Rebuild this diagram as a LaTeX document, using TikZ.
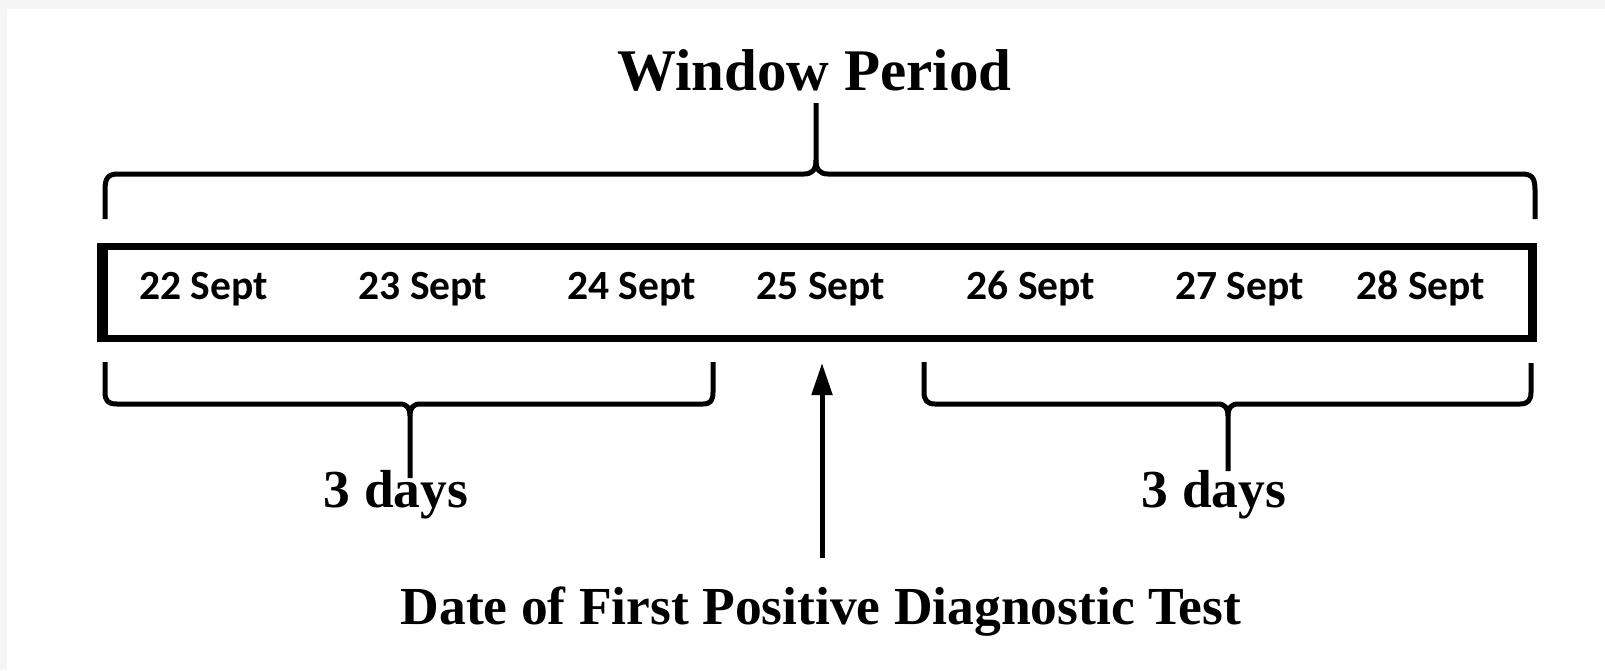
\documentclass[tikz,border=0pt]{standalone}
\usepackage{fontspec}
\setmainfont{Liberation Serif}
\newfontfamily\datefont{Carlito}
\usetikzlibrary{arrows.meta}
\definecolor{pagegray}{RGB}{245,245,245}
\tikzset{
  brace/.style={line width=5pt, line cap=butt, line join=round},
  datelbl/.style={anchor=base, inner sep=0pt, font=\datefont\bfseries\fontsize{41.5}{48}\selectfont},
  biglbl/.style={anchor=base, inner sep=0pt, font=\bfseries\fontsize{53.5}{62}\selectfont},
  titlelbl/.style={anchor=base, inner sep=0pt, font=\bfseries\fontsize{59}{68}\selectfont},
  pointer/.style={line width=5pt, -{Triangle[length=32pt,width=20pt]}}
}
\begin{document}
\begin{tikzpicture}[x=1pt,y=-1pt]
\useasboundingbox (0,0) rectangle (1605,670);
\fill[pagegray] (0,0) rectangle (1605,670);
\fill[white] (7,9) rectangle (1605,670);
% timeline bar
\fill[black] (97,243) rectangle (1537,342);
\fill[white] (108,250) rectangle (1528,335);
\node (bar) at (817,292.5) [minimum width=1440pt, minimum height=99pt, inner sep=0pt] {};
% dates
\node[datelbl] (d22) at (203.7,299) {22 Sept};
\node[datelbl] (d23) at (423,299) {23 Sept};
\node[datelbl] (d24) at (631.6,299) {24 Sept};
\node[datelbl] (d25) at (821,299) {25 Sept};
\node[datelbl] (d26) at (1031,299) {26 Sept};
\node[datelbl] (d27) at (1239.6,299) {27 Sept};
\node[datelbl] (d28) at (1420.8,299) {28 Sept};
% title and top brace
\node[titlelbl] (title) at (814.5,90) {Window Period};
\draw[brace] (105,219) -- (105,190) .. controls (105,178) and (108,174) .. (118,174)
  -- (804,174) .. controls (812,174) and (816,170) .. (816,160) -- (816,103);
\draw[brace] (816,160) .. controls (816,170) and (820,174) .. (828,174)
  -- (1522,174) .. controls (1532,174) and (1535,178) .. (1535,190) -- (1535,219);
% left bottom brace
\draw[brace] (105,362) -- (105,392) .. controls (105,401) and (108,404) .. (117,404)
  -- (400,404) .. controls (407,404) and (410,408) .. (410,416) -- (410,478);
\draw[brace] (410,416) .. controls (410,408) and (413,404) .. (420,404)
  -- (703,404) .. controls (711,404) and (713,400) .. (713,392) -- (713,362);
\node[biglbl] (left3) at (396,507) {3 days};
% right bottom brace
\draw[brace] (924,362) -- (924,392) .. controls (924,400) and (927,404) .. (935,404)
  -- (1218,404) .. controls (1225,404) and (1228,408) .. (1228,416) -- (1228,471);
\draw[brace] (1228,416) .. controls (1228,408) and (1231,404) .. (1238,404)
  -- (1520,404) .. controls (1528,404) and (1531,400) .. (1531,392) -- (1531,363);
\node[biglbl] (right3) at (1214,507) {3 days};
% arrow and its label
\node[biglbl] (test) at (821,624) {Date of First Positive Diagnostic Test};
\coordinate (tail) at (822,558);
\coordinate (head) at (822,363);
\draw[pointer] (tail) -- (head);
\end{tikzpicture}
\end{document}
